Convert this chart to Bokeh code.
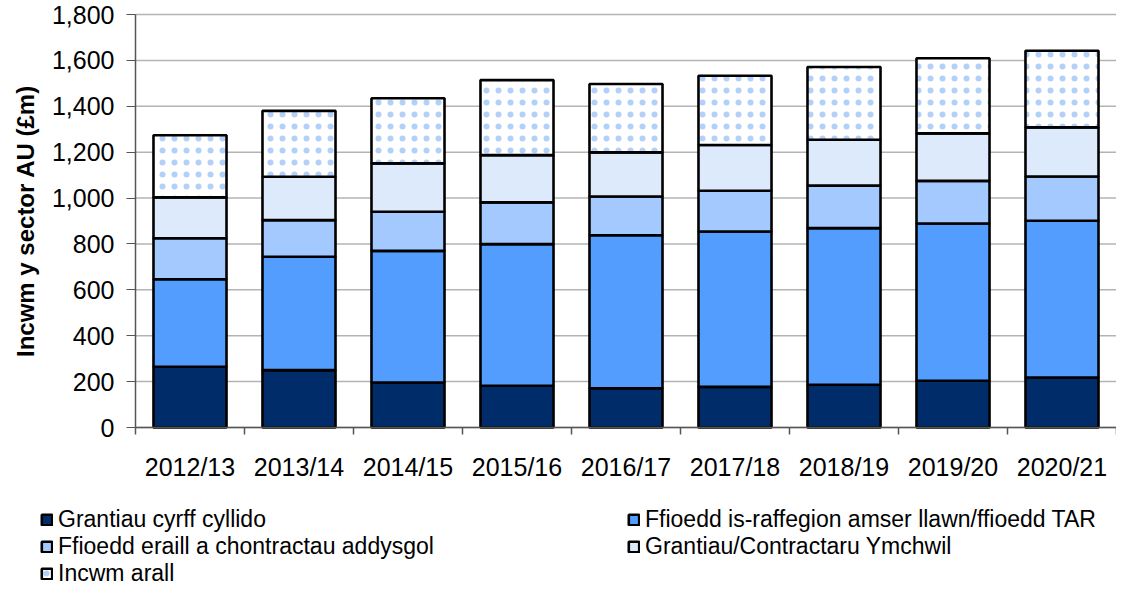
from bokeh.plotting import figure
from bokeh.models import (ColumnDataSource, Range1d, FixedTicker, NumeralTickFormatter,
                          Legend, LegendItem)
from bokeh.embed import file_html
from bokeh.resources import INLINE

years = ["2012/13", "2013/14", "2014/15", "2015/16", "2016/17",
         "2017/18", "2018/19", "2019/20", "2020/21"]
grantiau_cyrff = [265, 250, 196, 182, 171, 177, 186, 204, 218]
ffioedd_llawn = [381, 494, 574, 617, 667, 677, 683, 685, 683]
ffioedd_eraill = [179, 160, 170, 182, 169, 178, 185, 186, 193]
ymchwil = [178, 189, 211, 206, 192, 199, 200, 207, 214]
incwm_arall = [271, 287, 284, 327, 298, 302, 317, 327, 334]
series_names = ["Grantiau cyrff cyllido",
                "Ffioedd is-raffegion amser llawn/ffioedd TAR",
                "Ffioedd eraill a chontractau addysgol",
                "Grantiau/Contractaru Ymchwil",
                "Incwm arall"]
y_ticks = [0, 200, 400, 600, 800, 1000, 1200, 1400, 1600, 1800]

colors = ["#002C69", "#539DFE", "#A3C9FF", "#DDEAFC", "#FFFFFF"]
series = [grantiau_cyrff, ffioedd_llawn, ffioedd_eraill, ymchwil, incwm_arall]
FONT = "Liberation Sans"

n = len(years)
xs = [i + 0.5 for i in range(n)]
y_max = y_ticks[-1]

# layout (pixels): the frame fills the whole figure; axes sit at fixed data
# positions so that the legend underneath can live inside the frame.
W, H = 1116, 587
TOP_PX = 14              # space above the 1,800 line
LEFT_PX = 135            # room for the y axis labels
CHART_PX = 413           # height of 0..1800
cat_px = (W - LEFT_PX) / n
units_per_px = y_max / CHART_PX
x_start = -LEFT_PX / cat_px
y_start = -(H - TOP_PX - CHART_PX) * units_per_px
y_end = y_max + TOP_PX * units_per_px

p = figure(width=W, height=H, output_backend="svg", toolbar_location=None,
           x_range=Range1d(x_start, n), y_range=Range1d(y_start, y_end),
           min_border_left=0, min_border_right=0, min_border_top=0,
           min_border_bottom=0)
p.outline_line_color = None
p.xgrid.grid_line_color = None
p.ygrid.grid_line_color = None

# horizontal gridlines across the chart area only
p.segment(x0=[0] * len(y_ticks), x1=[n] * len(y_ticks), y0=y_ticks, y1=y_ticks,
          line_color="#B4B4B4", line_width=1.5, level="underlay")

renderers = []
bottoms = [0] * n
for k, vals in enumerate(series):
    tops = [b + v for b, v in zip(bottoms, vals)]
    src = ColumnDataSource(dict(x=xs, bottom=bottoms, top=tops))
    kw = dict(fill_color=colors[k], line_color="black", line_width=2.6)
    if k == 4:
        kw.update(hatch_pattern="dot", hatch_color="#B3D0F8", hatch_scale=12,
                  hatch_weight=1)
    renderers.append(p.vbar(x="x", bottom="bottom", top="top", width=0.67,
                            source=src, **kw))
    bottoms = tops

# y axis
yax = p.yaxis[0]
yax.fixed_location = 0
yax.bounds = (0, y_max)
yax.ticker = FixedTicker(ticks=y_ticks)
yax.formatter = NumeralTickFormatter(format="0,0")
yax.axis_label = "Incwm y sector AU (£m)"
yax.axis_label_text_font = FONT
yax.axis_label_text_font_style = "bold"
yax.axis_label_text_font_size = "24px"
yax.axis_label_text_color = "black"
yax.axis_label_standoff = 10
yax.major_label_text_font = FONT
yax.major_label_text_font_size = "25px"
yax.major_label_text_color = "black"
yax.major_label_standoff = 12
yax.major_tick_in = 0
yax.major_tick_out = 9
yax.minor_tick_line_color = None
yax.axis_line_color = "#555555"
yax.axis_line_width = 1.5
yax.major_tick_line_color = "#555555"

# x axis: labels at centres, ticks at category boundaries
xax = p.xaxis[0]
xax.fixed_location = 0
xax.bounds = (0, n)
xax.ticker = FixedTicker(ticks=xs, minor_ticks=list(range(n + 1)))
xax.major_label_overrides = {x: y for x, y in zip(xs, years)}
xax.major_tick_line_color = None
xax.minor_tick_in = 0
xax.minor_tick_out = 7
xax.minor_tick_line_color = "#555555"
xax.minor_tick_line_width = 1.5
xax.axis_line_color = "#555555"
xax.axis_line_width = 1.5
xax.major_label_text_font = FONT
xax.major_label_text_font_size = "25px"
xax.major_label_text_color = "black"
xax.major_label_standoff = 18

legend = Legend(items=[LegendItem(label=nm, renderers=[r])
                       for nm, r in zip(series_names, renderers)],
                orientation="horizontal", ncols=2,
                label_text_font=FONT, label_text_font_size="23px",
                label_text_color="black",
                glyph_width=13, glyph_height=13, label_standoff=5,
                label_width=569, label_height=20, spacing=0,
                border_line_color=None, background_fill_alpha=0,
                padding=0, margin=0, location=(40, 0))
p.add_layout(legend, "center")

open("out.html", "w").write(file_html(p, INLINE))
